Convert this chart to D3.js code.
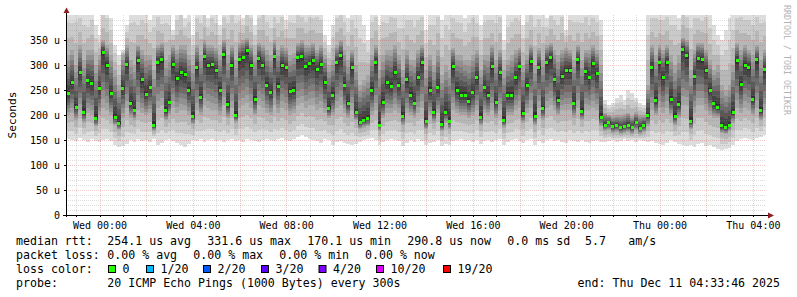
<!DOCTYPE html>
<html>
<head>
<meta charset="utf-8">
<script src="https://cdn.jsdelivr.net/npm/d3@7"></script>
<style>
  body { margin: 0; background: #fff; }
  text { font-family: "DejaVu Sans Mono", monospace; }
</style>
</head>
<body>
<div id="chart"></div>
<script>
// time window of the graph and sampling of the data below
const startTime = new Date(2025, 11, 9, 22, 33, 46);
const endTime = new Date(2025, 11, 11, 4, 33, 46);
const firstSample = new Date(2025, 11, 9, 22, 35, 0);
const stepMinutes = 10;

// median rtt per sample (microseconds)
const median = [243,265,215,285,205,268,263,193,253,326,
  300,243,195,182,254,302,222,210,309,270,
  241,255,179,305,310,209,225,301,273,285,
  281,250,198,295,236,317,300,301,290,250,
  321,221,300,200,310,315,329,300,231,313,
  300,260,245,316,258,300,295,247,250,314,
  316,297,303,309,292,302,265,213,240,305,
  318,260,222,295,205,185,190,193,250,305,
  180,225,265,258,285,260,198,270,240,224,
  275,305,187,250,205,255,181,205,188,297,
  250,240,240,228,245,275,196,255,240,297,
  225,285,190,240,240,275,297,203,260,307,
  198,296,213,306,314,270,230,277,290,290,
  224,310,207,287,275,303,283,196,180,185,
  177,178,175,177,180,175,185,174,179,200,
  295,229,305,275,305,231,197,220,332,319,
  188,277,313,312,290,250,222,215,178,175,
  180,205,309,262,300,295,231,310,209,291];

// fastest ping per sample
const lo = [152,150,148,155,150,147,152,149,146,150,
  153,148,140,137,138,142,150,147,152,148,
  150,146,152,140,145,150,152,148,145,140,
  137,142,150,148,152,146,150,153,148,150,
  146,150,152,148,150,147,153,150,148,146,
  150,152,150,148,153,155,150,148,152,156,
  160,157,152,150,148,145,152,150,140,146,
  148,145,142,140,143,147,150,152,155,150,
  140,146,150,152,150,148,138,145,150,146,
  152,148,140,145,147,150,138,142,140,148,
  150,152,148,150,146,150,143,148,150,147,
  150,152,140,147,150,152,148,145,150,152,
  140,148,145,150,152,149,150,147,145,150,
  148,146,150,147,145,148,150,147,146,148,
  150,147,149,152,148,150,147,151,149,146,
  148,145,142,140,145,150,147,142,140,138,
  140,137,142,145,138,140,137,133,130,132,
  135,140,148,152,155,153,150,155,157,160];

// lower quartile ping per sample
const q1 = [200,205,190,210,185,205,200,178,200,215,
  210,200,180,170,195,215,195,190,210,205,
  200,205,168,215,220,190,200,215,205,210,
  210,200,182,210,200,220,215,210,210,200,
  220,195,215,185,215,220,225,215,200,220,
  215,205,200,220,205,215,210,200,205,220,
  225,215,220,220,210,215,205,195,200,215,
  220,205,195,210,190,172,175,178,200,210,
  168,195,205,205,210,205,180,205,200,195,
  205,215,172,200,185,205,168,185,172,210,
  205,200,200,195,200,210,180,205,200,210,
  195,210,175,200,200,210,215,185,205,215,
  180,215,190,215,220,210,200,210,210,210,
  195,215,190,210,210,215,210,178,168,170,
  165,166,163,165,167,163,170,162,166,178,
  210,200,215,205,215,200,180,195,220,220,
  172,205,220,220,210,200,195,195,165,162,
  168,185,215,205,215,210,200,215,190,210];

// upper quartile ping per sample
const q3 = [320,330,300,340,310,330,330,300,320,350,
  340,320,290,260,320,340,310,300,340,330,
  320,320,290,340,345,310,320,340,330,340,
  340,320,300,340,320,350,340,340,335,320,
  350,320,340,310,345,350,355,340,320,345,
  340,330,320,350,330,340,335,320,325,345,
  350,340,340,345,330,340,320,300,310,340,
  350,330,310,330,300,260,270,280,320,340,
  290,320,330,330,340,320,290,330,310,310,
  330,340,290,320,300,330,280,300,290,335,
  320,320,310,310,320,330,290,320,320,340,
  310,330,290,310,320,330,335,300,320,340,
  300,335,310,340,345,330,320,330,335,330,
  310,340,310,330,330,340,330,300,205,200,
  198,200,200,202,205,198,206,200,200,260,
  340,320,340,330,340,320,300,320,355,350,
  290,330,345,345,330,310,290,300,260,250,
  260,300,345,330,340,330,320,340,310,330];

// slowest ping per sample
const hi = [420,410,430,420,415,400,420,380,360,425,
  420,395,340,320,330,380,420,430,400,420,
  415,390,420,425,400,420,410,370,420,430,
  395,420,360,420,415,430,395,420,410,380,
  420,415,430,420,410,395,425,420,380,420,
  430,415,400,420,410,425,390,420,415,430,
  420,410,425,420,430,415,360,340,380,420,
  425,415,395,420,410,400,380,350,420,425,
  380,420,410,430,420,400,415,420,430,410,
  420,425,370,410,420,430,390,420,410,425,
  420,415,395,420,430,410,380,420,425,415,
  420,430,350,410,420,425,415,380,420,430,
  415,420,410,395,425,420,410,430,370,420,
  425,410,420,430,405,420,415,390,230,220,
  225,235,240,230,250,245,235,225,220,410,
  420,430,415,420,425,410,420,395,430,420,
  415,425,420,410,430,405,380,360,350,370,
  395,405,420,430,415,420,410,425,420,415];

const yTicks = [0, 50, 100, 150, 200, 250, 300, 350];
const yTickLabels = ["0", "50 u", "100 u", "150 u", "200 u", "250 u", "300 u", "350 u"];
const xTickTimes = [
  new Date(2025, 11, 10, 0), new Date(2025, 11, 10, 4), new Date(2025, 11, 10, 8),
  new Date(2025, 11, 10, 12), new Date(2025, 11, 10, 16), new Date(2025, 11, 10, 20),
  new Date(2025, 11, 11, 0), new Date(2025, 11, 11, 4)];

const lossLabels = ["0", "1/20", "2/20", "3/20", "4/20", "10/20", "19/20"];
const lossColors = ["#26ff00", "#00b8ff", "#0059ff", "#5e00ff", "#7e00ff", "#dd00ff", "#ff0000"];

// smokeping grey levels, outermost ping pair first
const smokeColors = ["#dddddd", "#cacaca", "#b7b7b7", "#a4a4a4", "#919191",
  "#7e7e7e", "#6b6b6b", "#585858", "#454545", "#323232"];

// layout
const w = 797, h = 297;
const margin = {left: 66, right: 31, top: 15, bottom: 82};
const plotR = w - margin.right, plotB = h - margin.bottom;

let x = d3.scaleTime().domain([startTime, endTime]).range([margin.left, plotR]);
let y = d3.scaleLinear().domain([0, 400]).range([plotB, margin.top]);

let svg = d3.select("#chart").append("svg")
  .attr("width", w)
  .attr("height", h)
  .style("display", "block");

svg.append("rect").attr("width", w).attr("height", h).attr("fill", "#fff");

svg.append("clipPath").attr("id", "plotclip")
  .append("rect")
  .attr("x", margin.left).attr("y", margin.top)
  .attr("width", plotR - margin.left).attr("height", plotB - margin.top);

// samples, plus one closing point so the last step gets its width
let samples = median.map((m, i) => ({
  t: d3.timeMinute.offset(firstSample, i * stepMinutes),
  med: m, lo: lo[i], q1: q1[i], q3: q3[i], hi: hi[i]
}));
let last = samples[samples.length - 1];
let stepped = samples.concat([Object.assign({}, last, {t: d3.timeMinute.offset(last.t, stepMinutes)})]);
// ping value by rank (1 = fastest, 20 = slowest)
stepped.forEach(d => {
  d.ping = d3.scaleLinear().domain([1, 4, 10.5, 17, 20]).range([d.lo, d.q1, d.med, d.q3, d.hi]);
});

let smoke = svg.append("g").attr("clip-path", "url(#plotclip)").attr("shape-rendering", "crispEdges");
smokeColors.forEach((c, k) => {
  let area = d3.area()
    .curve(d3.curveStepAfter)
    .x(d => x(d.t))
    .y0(d => y(d.ping(k + 1)))
    .y1(d => y(d.ping(20 - k)));
  smoke.append("path").datum(stepped).attr("fill", c).attr("d", area);
});

// grid on top of the smoke
let grid = svg.append("g").attr("shape-rendering", "crispEdges");
d3.range(10, 400, 10).forEach(v => {
  let major = v % 50 === 0;
  let yy = Math.round(y(v)) + 0.5;
  grid.append("line")
    .attr("x1", margin.left).attr("x2", plotR)
    .attr("y1", yy).attr("y2", yy)
    .attr("stroke", major ? "rgba(210,60,60,0.28)" : "rgba(140,140,140,0.3)")
    .attr("stroke-dasharray", "1,1");
});
d3.timeHour.range(startTime, endTime).forEach(t => {
  let major = t.getHours() % 2 === 0;
  let xx = Math.round(x(t)) + 0.5;
  grid.append("line")
    .attr("x1", xx).attr("x2", xx)
    .attr("y1", margin.top).attr("y2", plotB)
    .attr("stroke", major ? "rgba(210,60,60,0.28)" : "rgba(140,140,140,0.3)")
    .attr("stroke-dasharray", "1,1");
  grid.append("line")
    .attr("x1", xx).attr("x2", xx)
    .attr("y1", plotB).attr("y2", plotB + 2)
    .attr("stroke", "#000");
});

// median dots
let stepW = x(d3.timeMinute.offset(firstSample, stepMinutes)) - x(firstSample);
svg.append("g").attr("clip-path", "url(#plotclip)").attr("shape-rendering", "crispEdges")
  .selectAll("rect")
  .data(samples)
  .join("rect")
  .attr("x", d => Math.round(x(d.t) + stepW / 2 - 1.5))
  .attr("y", d => Math.round(y(d.med) - 1.5))
  .attr("width", 3)
  .attr("height", 3)
  .attr("fill", lossColors[0]);

// axes
let axisColor = "#000", arrowColor = "#8e1f1f";
svg.append("line")
  .attr("x1", margin.left + 0.5).attr("x2", margin.left + 0.5)
  .attr("y1", plotB + 2).attr("y2", 10)
  .attr("stroke", axisColor).attr("shape-rendering", "crispEdges");
svg.append("line")
  .attr("x1", margin.left - 3).attr("x2", 770)
  .attr("y1", plotB + 0.5).attr("y2", plotB + 0.5)
  .attr("stroke", axisColor).attr("shape-rendering", "crispEdges");
svg.append("path").attr("fill", arrowColor)
  .attr("d", `M${margin.left - 2.5},13 L${margin.left + 3.5},13 L${margin.left + 0.5},7.5 Z`);
svg.append("path").attr("fill", arrowColor)
  .attr("d", `M768,${plotB - 2.5} L768,${plotB + 3.5} L774,${plotB + 0.5} Z`);

yTicks.forEach((v, i) => {
  let yy = Math.round(y(v)) + 0.5;
  if (v > 0) {
    svg.append("line")
      .attr("x1", margin.left - 2).attr("x2", margin.left)
      .attr("y1", yy).attr("y2", yy)
      .attr("stroke", axisColor).attr("shape-rendering", "crispEdges");
  }
  svg.append("text")
    .attr("x", 60).attr("y", y(v) + 3.6)
    .attr("text-anchor", "end")
    .attr("font-size", 10)
    .text(yTickLabels[i]);
});

let fmt = d3.timeFormat("%a %H:%M");
xTickTimes.forEach(t => {
  svg.append("text")
    .attr("x", x(t) + 0.5).attr("y", 228.5)
    .attr("text-anchor", "middle")
    .attr("font-size", 10)
    .text(fmt(t));
});

svg.append("text")
  .attr("transform", `translate(15.5,${(margin.top + plotB) / 2}) rotate(-90)`)
  .attr("text-anchor", "middle")
  .attr("font-size", 11.2)
  .text("Seconds");

svg.append("text")
  .attr("transform", "translate(784,5) rotate(90)")
  .attr("font-size", 8.3)
  .attr("fill", "#b4b4b4")
  .text("RRDTOOL / TOBI OETIKER");

// legend
let legend = svg.append("g").attr("font-size", 11.6).style("white-space", "pre");
function put(txt, xx, yy, anchor) {
  legend.append("text").attr("x", xx).attr("y", yy)
    .attr("text-anchor", anchor || "start").text(txt);
}
put("median rtt:", 16, 245);
put("254.1 us avg", 107.3, 245);
put("331.6 us max", 207.3, 245);
put("170.1 us min", 307.3, 245);
put("290.8 us now", 407.3, 245);
put("0.0 ms sd", 507.3, 245);
put("5.7", 585, 245);
put("am/s", 628.3, 245);

put("packet loss:", 16, 259);
put("0.00 % avg", 107.3, 259);
put("0.00 % max", 193.3, 259);
put("0.00 % min", 279.3, 259);
put("0.00 % now", 365, 259);

put("loss color:", 16, 273);
let boxX = [108, 146, 203, 261, 318.5, 376, 443];
lossLabels.forEach((l, i) => {
  legend.append("rect")
    .attr("x", boxX[i] + 0.5).attr("y", 265.5)
    .attr("width", 7).attr("height", 7)
    .attr("fill", lossColors[i])
    .attr("stroke", "#000");
  put(l, boxX[i] + 14.5, 273);
});

put("probe:", 16, 287);
put("20 ICMP Echo Pings (1000 Bytes) every 300s", 107.3, 287);
put("end: Thu Dec 11 04:33:46 2025", 780, 287, "end");
</script>
</body>
</html>
